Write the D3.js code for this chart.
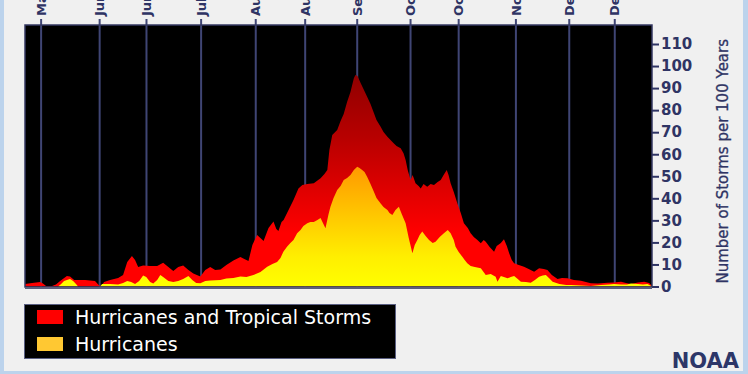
<!DOCTYPE html>
<html>
<head>
<meta charset="utf-8">
<script src="https://cdn.jsdelivr.net/npm/d3@7"></script>
<style>
  html, body { margin: 0; padding: 0; background: #f0f0f0; }
  svg { display: block; }
</style>
</head>
<body>
<div id="chart"></div>
<script>
// --- data: day 0 of the season axis is May 12 ---
const tickDays = [6, 28.5, 46.5, 67.5, 88.5, 107.5, 127.5, 148, 166.5, 188.5, 209, 226.5];
const tickLabels = ['May 18', 'Jun 9', 'Jun 27', 'Jul 18', 'Aug 8', 'Aug 27', 'Sep 16', 'Oct 7', 'Oct 25', 'Nov 16', 'Dec 7', 'Dec 24'];
const yTicks = [0, 10, 20, 30, 40, 50, 60, 70, 80, 90, 100, 110];

// hurricanes and tropical storms (per 100 years)
const stormDays = [0,2.7,5.8,6.9,8.1,10.4,11.9,13.5,16.1,17.3,18.9,23.1,26.9,28.5,29.3,30.4,32.7,35.8,37.7,39.3,
  41.1,42.3,43.5,45.4,48.1,50.8,53.1,55.1,57.0,58.9,60.8,62.8,64.7,67.4,69.3,71.2,73.1,75.1,77.4,80.1,
  82.8,84.3,85.9,87.4,89.2,90.9,91.7,93.6,95.5,96.6,97.4,98.6,99.4,101.3,103.2,105.1,106.6,108.5,111.0,113.6,
  115.1,116.2,117.0,118.1,120.0,121.3,122.5,123.8,125.1,126.4,127.0,127.8,129.0,130.1,131.5,132.8,134.1,135.1,136.7,137.8,
  139.3,140.5,141.8,142.8,144.4,145.5,146.3,147.1,148.2,149.0,150.1,151.3,152.1,153.2,154.6,155.9,157.2,158.6,159.8,160.9,
  162.1,162.8,163.6,164.8,166.2,167.5,168.7,170.2,171.3,172.5,173.9,175.2,176.3,177.1,178.6,180.3,181.3,182.9,184.1,185.2,
  186.1,187.1,188.0,189.8,191.8,193.6,195.7,197.6,199.4,200.8,202.5,204.7,206.4,208.5,211.0,213.7,215.6,217.5,220.2,223.9,
  226.4,229.1,231.0,232.9,235.6,238.0,239.9,241.0];
const stormCounts = [1.1,1.6,2.0,1.4,0.2,0.2,0.9,2.5,4.8,4.5,2.9,2.9,2.5,0.5,0.2,2.0,2.9,3.9,5.2,11.1,
  13.8,12.0,8.8,9.5,9.3,9.3,10.8,8.8,7.0,8.8,9.5,7.5,5.9,4.5,7.5,8.8,7.5,7.7,9.8,11.8,
  13.4,12.5,11.6,18.8,23.4,21.5,20.6,26.5,29.5,26.1,25.2,29.3,30.2,34.7,39.2,44.4,46.0,46.5,46.8,49.1,
  51.0,52.8,61.9,68.7,71.0,75.1,78.2,83.7,88.2,94.5,95.9,95.5,92.3,89.6,86.1,82.8,78.7,75.5,72.5,70.1,
  67.9,66.4,64.9,63.7,62.7,60.5,57.4,52.8,48.3,50.6,46.8,45.6,44.5,46.5,45.3,46.5,46.0,47.4,48.3,50.6,
  52.8,50.6,46.8,42.9,37.7,33.3,28.7,26.5,24.1,22.4,21.1,19.6,21.1,20.3,17.9,15.8,18.4,19.7,21.4,18.4,
  15.1,12.0,10.5,9.8,9.0,7.9,6.7,8.3,7.9,7.5,5.2,3.4,3.9,3.7,2.9,2.6,2.0,1.5,1.4,1.7,
  1.8,2.2,1.6,1.1,1.8,2.2,1.6,0.2];

// hurricanes only
const hurricaneDays = [0,12.7,13.9,15.0,16.7,17.3,18.5,19.6,20.4,28.9,29.6,32.7,35.8,37.7,39.3,40.8,42.3,43.9,45.4,46.6,
  48.1,49.3,50.8,52.0,53.1,55.1,57.0,58.9,60.8,62.8,64.3,65.8,67.4,69.3,71.2,75.1,77.4,80.1,82.8,85.1,
  87.8,90.5,93.1,95.1,96.9,98.2,99.3,100.7,102.0,103.2,104.6,105.9,107.0,108.5,109.7,111.0,112.4,113.6,114.7,115.5,
  116.6,117.4,118.6,120.0,121.3,122.5,123.8,125.1,126.4,127.7,128.6,129.6,130.5,131.5,132.8,134.1,135.1,136.7,137.8,139.3,
  140.1,141.2,142.4,143.7,144.8,146.3,147.5,148.9,149.8,150.8,151.7,152.7,154.0,155.3,156.7,157.8,159.4,161.0,162.5,163.6,
  164.8,165.5,166.7,168.1,169.0,170.0,171.3,172.9,175.2,177.1,179.0,180.9,181.6,182.9,185.5,186.7,188.0,189.4,190.6,192.5,
  194.4,196.0,197.6,199.0,200.2,201.4,202.8,205.4,208.0,209.8,213.7,217.5,221.4,224.5,226.4,229.1,231.4,232.9,235.6,237.5,
  239.3,241.0];
const hurricaneCounts = [0,0,1.1,2.5,3.2,3.4,2.5,1.1,0,0,1.1,1.1,0.9,1.6,2.5,2.0,1.1,2.5,5.0,4.3,
  2.0,1.4,2.9,5.2,4.3,2.5,2.0,2.5,3.4,4.8,2.9,1.6,1.5,2.5,2.7,2.9,3.6,3.9,4.5,4.3,
  5.2,6.6,9.0,10.2,11.1,12.9,15.8,18.0,19.7,21.1,24.1,25.6,27.4,28.7,29.3,29.3,30.2,31.1,28.3,26.4,
  32.4,36.2,40.1,43.8,45.6,48.3,49.2,50.6,52.8,54.3,53.7,52.8,51.9,49.8,46.5,43.0,40.1,37.7,36.1,34.7,
  33.3,32.4,34.7,36.2,32.9,28.7,22.0,15.1,18.8,21.1,23.4,24.9,22.9,21.1,19.7,20.3,22.4,24.1,25.6,24.1,
  21.1,18.0,15.6,13.5,12.0,10.5,9.3,8.8,8.3,5.2,5.7,4.4,2.2,4.8,3.7,4.3,4.8,3.4,2.2,2.0,
  1.7,2.9,4.4,5.0,5.2,3.9,2.2,1.1,0.7,0.7,0.5,0.2,0.7,0.9,1.1,0.9,0.9,1.4,1.1,0.9,
  1.1,0];

const legendLabels = ['Hurricanes and Tropical Storms', 'Hurricanes'];
const legendColors = ['#ff0000', '#ffc832'];

// --- layout ---
const width = 748, height = 374;
const plot = {left: 25, right: 652, top: 25, bottom: 287};
const navy = '#2f3464';

const svg = d3.select('#chart').append('svg')
  .attr('width', width)
  .attr('height', height);

// window frame
svg.append('rect').attr('width', width).attr('height', height).attr('fill', '#f0f0f0');
svg.append('rect').attr('x', 0).attr('y', 0).attr('width', 4).attr('height', height).attr('fill', '#bcd3ec');
svg.append('rect').attr('x', width - 5).attr('y', 0).attr('width', 5).attr('height', height).attr('fill', '#bcd3ec');
svg.append('rect').attr('x', 0).attr('y', height - 3).attr('width', width).attr('height', 3).attr('fill', '#bcd3ec');

const x = d3.scaleLinear().domain([0, 241]).range([plot.left, plot.right]);
const y = d3.scaleLinear().domain([0, 110]).range([286.5, 44]);

// gradients
const defs = svg.append('defs');
const redGrad = defs.append('linearGradient').attr('id', 'redGrad')
  .attr('gradientUnits', 'userSpaceOnUse')
  .attr('x1', 0).attr('x2', 0).attr('y1', y(96)).attr('y2', y(0));
[[0, '#900000'], [0.3, '#b80000'], [0.6, '#e80000'], [0.75, '#ff0000'], [1, '#ff0000']].forEach(s => {
  redGrad.append('stop').attr('offset', s[0]).attr('stop-color', s[1]);
});
const yelGrad = defs.append('linearGradient').attr('id', 'yelGrad')
  .attr('gradientUnits', 'userSpaceOnUse')
  .attr('x1', 0).attr('x2', 0).attr('y1', y(55)).attr('y2', y(0));
[[0, '#ff9800'], [0.35, '#ffc000'], [0.75, '#ffee00'], [1, '#ffff00']].forEach(s => {
  yelGrad.append('stop').attr('offset', s[0]).attr('stop-color', s[1]);
});

// plot background
svg.append('rect')
  .attr('x', plot.left).attr('y', plot.top)
  .attr('width', plot.right - plot.left).attr('height', plot.bottom - plot.top)
  .attr('fill', '#000');

// top axis with gridlines (labels run off the top edge, as in the source image)
const xAxis = svg.append('g')
  .attr('transform', `translate(0,${plot.top})`)
  .call(d3.axisTop(x).tickValues(tickDays).tickFormat((d, i) => tickLabels[i]).tickSize(6));
xAxis.select('.domain').remove();
xAxis.selectAll('.tick line')
  .attr('y1', -6).attr('y2', plot.bottom - plot.top)
  .attr('stroke', '#3f4574').attr('stroke-width', 2);
xAxis.selectAll('.tick text')
  .attr('transform', 'rotate(-90)')
  .attr('x', 9).attr('y', 0).attr('dy', '0.36em')
  .attr('text-anchor', 'start')
  .attr('fill', navy)
  .style('font', 'bold 13px "DejaVu Sans", sans-serif');

// areas
const storms = stormDays.map((d, i) => ({day: d, v: stormCounts[i]}));
const hurricanes = hurricaneDays.map((d, i) => ({day: d, v: hurricaneCounts[i]}));
const area = d3.area()
  .x(d => x(d.day))
  .y0(y(0))
  .y1(d => y(d.v));

svg.append('path').datum(storms).attr('d', area).attr('fill', 'url(#redGrad)');
svg.append('path').datum(hurricanes).attr('d', area).attr('fill', 'url(#yelGrad)');

// plot frame
svg.append('rect')
  .attr('x', plot.left).attr('y', plot.top)
  .attr('width', plot.right - plot.left).attr('height', plot.bottom - plot.top)
  .attr('fill', 'none').attr('stroke', '#343862').attr('stroke-width', 1.5);
svg.append('line')
  .attr('x1', plot.left).attr('x2', plot.right)
  .attr('y1', plot.bottom + 1).attr('y2', plot.bottom + 1)
  .attr('stroke', '#5c5f7c').attr('stroke-width', 2);

// right axis
const yAxis = svg.append('g')
  .attr('transform', `translate(${plot.right},0)`)
  .call(d3.axisRight(y).tickValues(yTicks).tickSize(7).tickPadding(2));
yAxis.select('.domain').remove();
yAxis.selectAll('.tick line').attr('stroke', navy).attr('stroke-width', 2);
yAxis.selectAll('.tick text')
  .attr('fill', navy)
  .style('font', 'bold 15px "DejaVu Sans", sans-serif');

svg.append('text')
  .attr('transform', `translate(728,${(y(0) + 36) / 2}) rotate(-90)`)
  .attr('text-anchor', 'middle')
  .attr('fill', navy)
  .attr('stroke', navy).attr('stroke-width', 0.3)
  .style('font', '15px "DejaVu Sans", sans-serif')
  .text('Number of Storms per 100 Years');

// legend
const legend = svg.append('g');
legend.append('rect')
  .attr('x', 24.5).attr('y', 304.5).attr('width', 371).attr('height', 54)
  .attr('fill', '#000').attr('stroke', '#5a5f82').attr('stroke-width', 1);
legendLabels.forEach((label, i) => {
  const base = i === 0 ? 324 : 351;
  legend.append('rect')
    .attr('x', 37).attr('y', base - 14).attr('width', 26).attr('height', 14)
    .attr('fill', legendColors[i]);
  legend.append('text')
    .attr('x', 75).attr('y', base)
    .attr('fill', '#fff')
    .style('font', '19px "DejaVu Sans", sans-serif')
    .text(label);
});

// credit
svg.append('text')
  .attr('x', 739).attr('y', 368)
  .attr('text-anchor', 'end')
  .attr('fill', '#2c3668')
  .style('font', 'bold 21px "DejaVu Sans", sans-serif')
  .text('NOAA');
</script>
</body>
</html>
